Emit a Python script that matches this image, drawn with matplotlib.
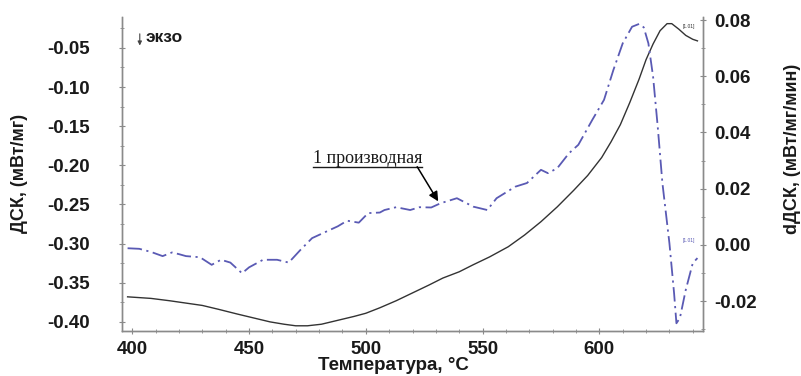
import matplotlib
matplotlib.use("Agg")
import matplotlib.pyplot as plt
from matplotlib.ticker import MultipleLocator, FormatStrFormatter

# DSC curve (left axis), temperature in C
dsc_temp = [398, 408, 416, 423, 430, 437, 445, 452, 459, 465, 470, 475, 481, 488,
            495, 500, 506, 513, 520, 527, 533, 540, 546, 553, 561, 568, 575, 582,
            589, 595, 601, 605, 609, 613, 617, 620, 623, 626, 629, 631, 634, 637,
            640, 642]
dsc_val = [-0.368, -0.370, -0.373, -0.376, -0.379, -0.384, -0.390, -0.395, -0.400,
           -0.403, -0.405, -0.405, -0.403, -0.398, -0.393, -0.389, -0.382, -0.373,
           -0.363, -0.353, -0.344, -0.336, -0.327, -0.317, -0.304, -0.289, -0.272,
           -0.253, -0.232, -0.213, -0.190, -0.170, -0.148, -0.120, -0.090, -0.065,
           -0.045, -0.028, -0.019, -0.019, -0.026, -0.034, -0.039, -0.041]

# first derivative (right axis)
ddsc_temp = [398, 403, 408, 413, 417, 420, 423, 429, 434, 438, 442, 447, 450, 456,
             462, 467, 472, 477, 483, 488, 492, 497, 501, 506, 508, 513, 519, 523,
             528, 532, 539, 546, 552, 556, 564, 569, 575, 578, 582, 587, 591, 597,
             602, 606, 610, 614, 617, 619, 621, 623, 625, 627, 630, 632, 633, 634.5,
             637, 640, 642]
ddsc_val = [-0.0012, -0.0014, -0.0025, -0.0040, -0.0027, -0.0033, -0.0040, -0.0044,
            -0.0071, -0.0053, -0.0063, -0.0101, -0.0080, -0.0053, -0.0053, -0.0063,
            -0.0018, 0.0024, 0.0047, 0.0066, 0.0086, 0.0079, 0.0113, 0.0115, 0.0124,
            0.0134, 0.0124, 0.0134, 0.0133, 0.0148, 0.0166, 0.0136, 0.0124, 0.0166,
            0.0207, 0.0220, 0.0267, 0.0255, 0.0273, 0.0326, 0.0356, 0.0445, 0.0516,
            0.0622, 0.0717, 0.0776, 0.0786, 0.0774, 0.0717, 0.0599, 0.0420, 0.0220,
            0.0006, -0.0172, -0.0279, -0.0260, -0.0160, -0.0065, -0.0047]

x_ticks = [400, 450, 500, 550, 600]
left_ticks = [-0.05, -0.10, -0.15, -0.20, -0.25, -0.30, -0.35, -0.40]
right_ticks = [0.08, 0.06, 0.04, 0.02, 0.00, -0.02]

SPINE = "#8a8a8a"
TEXT = "#1a1a1a"
BLUE = "#5a5ab4"


def style_axis(ax):
    for side in ["top", "left", "right", "bottom"]:
        ax.spines[side].set_color(SPINE)
        ax.spines[side].set_linewidth(1.0)
    ax.spines["top"].set_visible(False)
    ax.tick_params(which="both", direction="inout", color=SPINE, labelcolor=TEXT,
                   labelsize=13.5)
    ax.tick_params(which="major", length=4)
    ax.tick_params(which="minor", length=3)
    for lab in ax.get_xticklabels() + ax.get_yticklabels():
        lab.set_fontweight("bold")


def main():
    plt.rcParams["font.family"] = ["Liberation Sans", "DejaVu Sans"]

    fig = plt.figure(figsize=(8.01, 3.76), dpi=100)
    ax = fig.add_axes([0.152, 0.120, 0.726, 0.835])
    ax2 = ax.twinx()

    ax.plot(dsc_temp, dsc_val, color="#333333", lw=1.0)
    ax2.plot(ddsc_temp, ddsc_val, color=BLUE, lw=1.3, dashes=(8, 2.5, 1.2, 2.5))

    ax.set_xlim(395.5, 644.5)
    ax.set_ylim(-0.4115, -0.0104)
    ax2.set_ylim(-0.0306, 0.0811)

    ax.set_xticks(x_ticks)
    ax.xaxis.set_minor_locator(MultipleLocator(10))
    ax.set_yticks(left_ticks)
    ax.yaxis.set_minor_locator(MultipleLocator(0.025))
    ax.yaxis.set_major_formatter(FormatStrFormatter("%.2f"))
    ax2.set_yticks(right_ticks)
    ax2.yaxis.set_minor_locator(MultipleLocator(0.01))
    ax2.yaxis.set_major_formatter(FormatStrFormatter("%.2f"))

    style_axis(ax)
    style_axis(ax2)
    ax.tick_params(axis="y", pad=21)
    ax.tick_params(axis="x", pad=5)
    ax2.tick_params(axis="y", pad=6)

    ax.set_xlabel("Температура, °C", fontsize=13.5, fontweight="bold", color=TEXT)
    ax.xaxis.set_label_coords(0.468, -0.082)
    ax.set_ylabel("ДСК, (мВт/мг)", fontsize=13, fontweight="bold", color=TEXT)
    ax.yaxis.set_label_coords(-0.162, 0.5)
    ax2.set_ylabel("dДСК, (мВт/мг/мин)", fontsize=13, fontweight="bold", color=TEXT)
    ax2.yaxis.set_label_coords(1.138, 0.58)

    # exo direction marker
    ax.annotate("", xy=(0.031, 0.900), xytext=(0.031, 0.955), xycoords="axes fraction",
                arrowprops=dict(arrowstyle="-|>", color="#444444", lw=0.8,
                                mutation_scale=6))
    ax.text(0.040, 0.935, "экзо", transform=ax.transAxes, fontsize=12.5,
            fontweight="bold", color=TEXT, va="center", ha="left")

    # derivative callout: underlined caption with an arrow down to the curve
    ax.text(477.5, -0.1975, "1 производная", family=["Liberation Serif", "DejaVu Serif"],
            fontsize=13, color=TEXT, ha="left", va="baseline")
    ax.plot([477.5, 524], [-0.2018, -0.2018], color=TEXT, lw=1.0)
    ax.annotate("", xy=(531, -0.246), xytext=(522, -0.2018),
                xycoords="data", textcoords="data",
                arrowprops=dict(arrowstyle="-|>", color="black", lw=1.1,
                                mutation_scale=14, shrinkA=0, shrinkB=0))

    # curve end tags
    tag_x = 635.5
    ax.text(tag_x, -0.0225, "[1.01]", fontsize=3.5, color="#333333",
            ha="left", va="center")
    ax2.text(tag_x, 0.0015, "[1.01]", fontsize=3.5, color=BLUE,
             ha="left", va="center")

    fig.savefig("out.png", dpi=100)


if __name__ == "__main__":
    main()
